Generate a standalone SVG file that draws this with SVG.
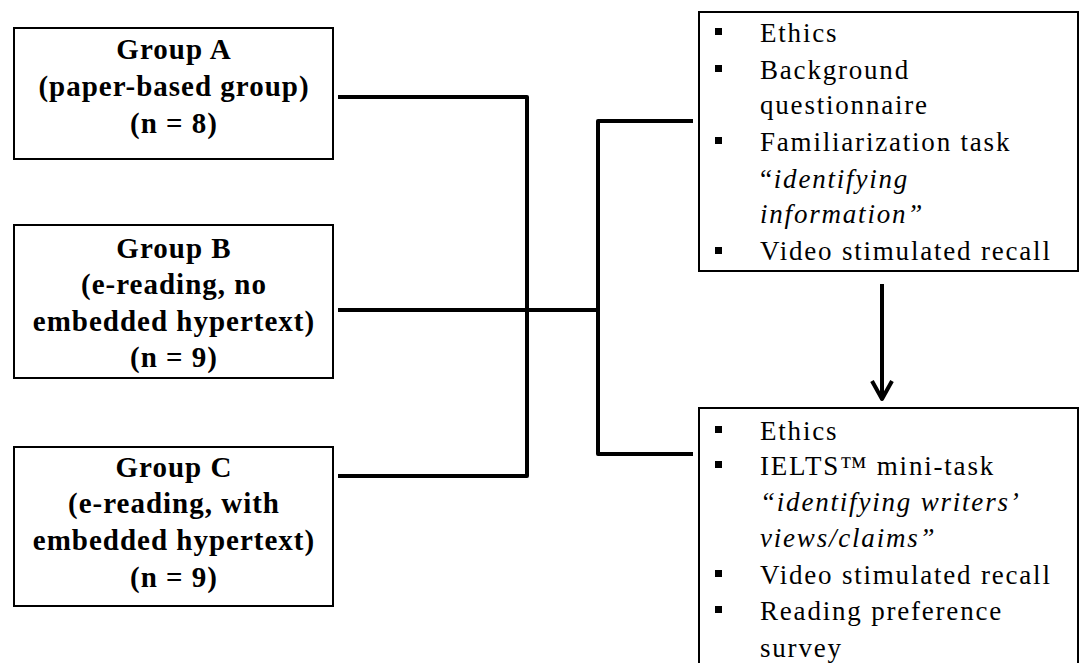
<svg xmlns="http://www.w3.org/2000/svg" width="1080" height="663" viewBox="0 0 1080 663">
<style>
.box{fill:#fff;stroke:#000;stroke-width:2}
.g{font-family:"Liberation Serif","Times New Roman",serif;font-weight:bold;font-size:29px;letter-spacing:1px;text-anchor:middle;fill:#000}
.t{font-family:"Liberation Serif","Times New Roman",serif;font-size:27px;letter-spacing:1.8px;fill:#000}
.i{font-style:italic}
.c{fill:none;stroke:#000;stroke-width:4;stroke-linejoin:round}
.b{fill:#000}
</style>
<defs>
<marker id="ah" viewBox="0 0 24 24" refX="20" refY="12" markerWidth="24" markerHeight="24" markerUnits="userSpaceOnUse" orient="auto">
<path d="M2,2 L20,12 L2,22" fill="none" stroke="#000" stroke-width="4" stroke-linejoin="round"/>
</marker>
</defs>
<rect width="1080" height="663" fill="#fff"/>
<g id="connectors">
<path class="c" d="M338,97 H527 V476 H338"/>
<path class="c" d="M338,310 H598"/>
<path class="c" d="M693,121 H598 V454 H693"/>
<path d="M882,284 V399" fill="none" stroke="#000" stroke-width="4" marker-end="url(#ah)"/>
</g>
<g id="groupA">
<rect class="box" x="14" y="28" width="319" height="131"/>
<text class="g" x="174" y="59">Group A</text>
<text class="g" x="174" y="96">(paper-based group)</text>
<text class="g" x="174" y="133">(n = 8)</text>
</g>
<g id="groupB">
<rect class="box" x="14" y="225" width="319" height="153"/>
<text class="g" x="174" y="258">Group B</text>
<text class="g" x="174" y="294">(e-reading, no</text>
<text class="g" x="174" y="331">embedded hypertext)</text>
<text class="g" x="174" y="367">(n = 9)</text>
</g>
<g id="groupC">
<rect class="box" x="14" y="447" width="319" height="159"/>
<text class="g" x="174" y="477">Group C</text>
<text class="g" x="174" y="513">(e-reading, with</text>
<text class="g" x="174" y="550">embedded hypertext)</text>
<text class="g" x="174" y="587">(n = 9)</text>
</g>
<g id="session1">
<rect class="box" x="699" y="12" width="379" height="259"/>
<rect class="b" x="715" y="28" width="7" height="7"/>
<rect class="b" x="715" y="65" width="7" height="7"/>
<rect class="b" x="715" y="137" width="7" height="7"/>
<rect class="b" x="715" y="247" width="7" height="7"/>
<text class="t" x="760" y="42">Ethics</text>
<text class="t" x="760" y="79">Background</text>
<text class="t" x="760" y="114">questionnaire</text>
<text class="t" x="760" y="151">Familiarization task</text>
<text class="t" x="760" y="188">“<tspan class="i">identifying</tspan></text>
<text class="t i" x="760" y="223">information”</text>
<text class="t" x="760" y="260">Video stimulated recall</text>
</g>
<g id="session2">
<rect class="box" x="699" y="408" width="379" height="262"/>
<rect class="b" x="715" y="426" width="7" height="7"/>
<rect class="b" x="715" y="461" width="7" height="7"/>
<rect class="b" x="715" y="570" width="7" height="7"/>
<rect class="b" x="715" y="606" width="7" height="7"/>
<text class="t" x="760" y="440">Ethics</text>
<text class="t" x="760" y="475">IELTS™ mini-task</text>
<text class="t i" x="760" y="511">“identifying writers’</text>
<text class="t i" x="760" y="547">views/claims”</text>
<text class="t" x="760" y="584">Video stimulated recall</text>
<text class="t" x="760" y="620">Reading preference</text>
<text class="t" x="760" y="657">survey</text>
</g>
</svg>
